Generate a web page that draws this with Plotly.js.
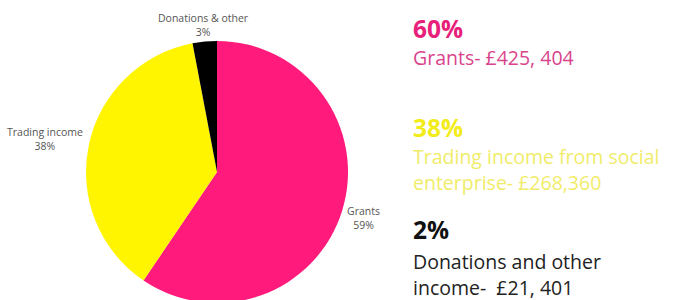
<!DOCTYPE html>
<html>
<head>
<meta charset="utf-8">
<script src="https://cdn.plot.ly/plotly-3.0.1.min.js"></script>
<style>
html,body{margin:0;padding:0;overflow:hidden;background:#fff;}
#chart{width:675px;height:310px;}
</style>
</head>
<body>
<div id="chart"></div>
<script>
const labels = ["Grants", "Trading income", "Donations & other"];
const amounts = [425404, 268360, 21401];
const colors = ["#FF1A7C", "#FFF500", "#000000"];

const sideLines = [
  {text: "<b>60%</b>", color: "#E8207A", size: 24.5},
  {text: "Grants- £425, 404", color: "#D9448C", size: 19.5},
  {text: "<b>38%</b>", color: "#F2EC1A", size: 24.5},
  {text: "Trading income from social", color: "#F0EC6A", size: 19.5},
  {text: "enterprise- £268,360", color: "#F0EC6A", size: 19.5},
  {text: "<b>2%</b>", color: "#111111", size: 24.5},
  {text: "Donations and other", color: "#222222", size: 19.5},
  {text: "income-  £21, 401", color: "#222222", size: 19.5}
];
const sideY = [0.908, 0.813, 0.590, 0.494, 0.410, 0.260, 0.158, 0.074];

// label positions (paper coords) for the pie's outside labels
const pieLabelPos = [[0.538, 0.297], [0.067, 0.552], [0.301, 0.919]];

const total = amounts.reduce((a, b) => a + b, 0);

const trace = {
  type: "pie",
  labels: labels,
  values: amounts,
  marker: {colors: colors, line: {width: 0}},
  sort: false,
  direction: "clockwise",
  rotation: 0,
  textinfo: "none",
  hoverinfo: "none",
  domain: {x: [0.1274, 0.5156], y: [0.0226, 0.8677]},
  automargin: false
};

const annotations = sideLines.map((l, i) => ({
  xref: "paper", yref: "paper",
  x: 0.609, y: sideY[i],
  xanchor: "left", yanchor: "middle",
  showarrow: false,
  text: l.text,
  font: {family: "Open Sans", size: l.size, color: l.color}
}));

labels.forEach((lab, i) => {
  annotations.push({
    xref: "paper", yref: "paper",
    x: pieLabelPos[i][0], y: pieLabelPos[i][1],
    xanchor: "center", yanchor: "middle",
    showarrow: false,
    align: "center",
    text: lab + "<br>" + Math.round(amounts[i] / total * 100) + "%",
    font: {family: "Open Sans", size: 10.5, color: "#555555"}
  });
});

const layout = {
  width: 675, height: 310,
  margin: {l: 0, r: 0, t: 0, b: 0},
  paper_bgcolor: "#ffffff",
  showlegend: false,
  annotations: annotations
};

Plotly.newPlot("chart", [trace], layout, {staticPlot: true, displayModeBar: false});
</script>
</body>
</html>
